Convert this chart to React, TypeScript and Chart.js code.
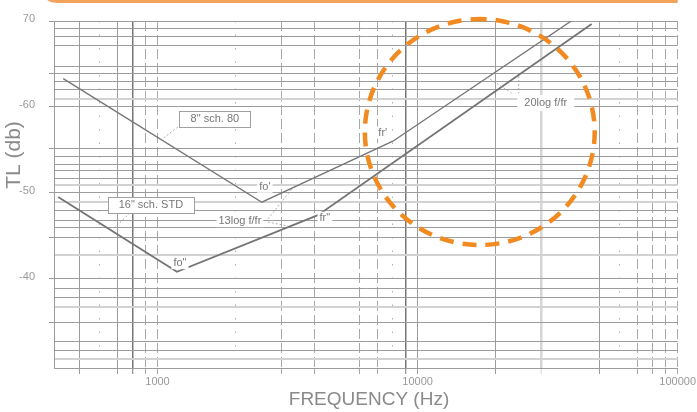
import React, { useEffect, useRef } from "react";
import { Chart, registerables } from "chart.js";

Chart.register(...registerables);

// ---------------- data ----------------
const upperFreq = [434, 2519, 8035, 39000];
const upperTL = [63.3, 48.9, 56.0, 70.0];
const lowerFreq = [415, 1188, 4137, 46700];
const lowerTL = [49.5, 40.8, 47.4, 69.65];

const xGridFreqs = [500, 600, 700, 800, 900, 1000, 2000, 3000, 4000, 6000, 7000, 8000, 9000, 10000, 20000, 30000, 50000, 60000, 70000, 80000, 90000, 100000];
const xGridKinds = ["solid", "dotted", "solid", "dark", "dashed", "dashed", "dotted", "dashed", "dashed", "dashed", "dashed", "dotted", "dark", "solid", "solid", "light", "solid", "dotted", "dashed", "dashed", "dashed", "dashed"];
const xLabelValues = [1000, 10000, 100000];
const xLabelTexts = ["1000", "10000", "100000"];

const yGridValues = [70, 69.07, 68.14, 67.09, 64.76, 63.83, 62.9, 62.08, 60.92, 60, 55.21, 54.28, 53.35, 52.54, 51.72, 50.91, 50, 48.93, 47.88, 46.83, 45.9, 44.85, 42.76, 40, 38.8, 37.75, 36.7, 34.84, 32.63, 31.58, 30.65];
const yLightValues = [60.92, 50.91, 48.93, 42.76, 36.7, 30.65];
const yTickMarkValues = [70, 63.83, 60, 55.21, 50, 44.85, 40, 34.84];
const yLabelValues = [70, 60, 50, 40];
const yLabelTexts = ["70", "-60", "-50", "-40"];

// annotation labels (position in Hz / dB)
const labelTexts = ['8" sch. 80', '16" sch. STD', "fo'", 'fo"', "13log f/fr", 'fr"', "fr'", "20log f/fr"];
const labelFreqs = [1662, 943, 2588, 1220, 2074, 4401, 7348, 31100];
const labelTL = [58.6, 48.6, 50.7, 41.8, 46.7, 47.1, 57.0, 60.45];
const labelKinds = ["box", "box", "bg", "bg", "bg", "bg", "bg", "wide"];

// leader lines: [f1, dB1, f2, dB2]
const leaderFrom = [[1198, 57.66], [784, 47.65], [2657, 46.95], [2657, 46.6], [18450, 63.48], [24490, 63.6]];
const leaderTo = [[1031, 56.14], [674, 45.78], [3286, 50.44], [3172, 46.13], [23010, 61.62], [24490, 61.62]];

// highlighted region (Hz left/right, dB top/bottom)
const circleFreqs = [6270, 47980];
const circleTL = [70.23, 43.92];

const FONT = '"Liberation Sans", Arial, Helvetica, sans-serif';
Chart.defaults.font.family = FONT;

const near = (a: number, b: number) => Math.abs(a - b) < 0.001;

const xStyle = (kind: string) => {
  switch (kind) {
    case "dark": return { color: "#777777", width: 1.5, dash: [] as number[] };
    case "dashed": return { color: "#a8a8a8", width: 1, dash: [10, 4] };
    case "dotted": return { color: "#b0b0b0", width: 1, dash: [1.5, 12] };
    case "light": return { color: "#d6d6d6", width: 2.5, dash: [] as number[] };
    default: return { color: "#9c9c9c", width: 1, dash: [] as number[] };
  }
};

const decorPlugin = {
  id: "decor",
  afterDatasetsDraw(chart: any) {
    const { ctx } = chart;
    const xs = chart.scales.x;
    const ys = chart.scales.y;
    const px = (f: number) => xs.getPixelForValue(f);
    const py = (v: number) => ys.getPixelForValue(v);
    ctx.save();
    ctx.font = `11px ${FONT}`;
    ctx.textAlign = "center";
    ctx.textBaseline = "middle";
    labelTexts.forEach((t, i) => {
      const cx = px(labelFreqs[i]);
      const cy = py(labelTL[i]);
      const w = ctx.measureText(t).width;
      const kind = labelKinds[i];
      if (kind === "box") {
        const bw = Math.round(w + 22);
        const bh = 16;
        const l = Math.round(cx - bw / 2) + 0.5;
        const tp = Math.round(cy - bh / 2) + 0.5;
        ctx.fillStyle = "#ffffff";
        ctx.fillRect(l, tp, bw, bh);
        ctx.strokeStyle = "#a0a0a0";
        ctx.lineWidth = 1;
        ctx.strokeRect(l, tp, bw, bh);
      } else if (kind === "wide") {
        ctx.fillStyle = "#ffffff";
        ctx.fillRect(cx - w / 2 - 7, cy - 8, w + 14, 16);
      } else {
        ctx.fillStyle = "#ffffff";
        ctx.fillRect(cx - w / 2 - 2, cy - 6, w + 4, 12);
      }
      ctx.fillStyle = "#777777";
      ctx.fillText(t, cx, cy);
    });
    ctx.strokeStyle = "#9a9a9a";
    ctx.lineWidth = 0.8;
    ctx.setLineDash([2, 2]);
    leaderFrom.forEach((a, i) => {
      const b = leaderTo[i];
      ctx.beginPath();
      ctx.moveTo(px(a[0]), py(a[1]));
      ctx.lineTo(px(b[0]), py(b[1]));
      ctx.stroke();
    });
    ctx.restore();
  },
  afterDraw(chart: any) {
    const { ctx } = chart;
    const xs = chart.scales.x;
    const ys = chart.scales.y;
    ctx.save();
    // orange highlight circle
    const l = xs.getPixelForValue(circleFreqs[0]);
    const r = xs.getPixelForValue(circleFreqs[1]);
    const t = ys.getPixelForValue(circleTL[0]);
    const b = ys.getPixelForValue(circleTL[1]);
    ctx.strokeStyle = "#f28a22";
    ctx.lineWidth = 4.5;
    ctx.setLineDash([14, 9]);
    ctx.lineDashOffset = 7;
    ctx.beginPath();
    ctx.ellipse((l + r) / 2, (t + b) / 2, (r - l) / 2, (b - t) / 2, 0, -Math.PI / 2, Math.PI * 1.5);
    ctx.stroke();
    ctx.setLineDash([]);
    // orange top rule
    ctx.strokeStyle = "#f4a35a";
    ctx.lineWidth = 3;
    ctx.beginPath();
    ctx.moveTo(45, -6);
    ctx.quadraticCurveTo(47, 1.5, 58, 1.5);
    ctx.lineTo(chart.chartArea.right, 1.5);
    ctx.stroke();
    // axis titles
    ctx.fillStyle = "#8a8a8a";
    ctx.textAlign = "center";
    ctx.textBaseline = "middle";
    ctx.font = `19px ${FONT}`;
    ctx.fillText("FREQUENCY (Hz)", 369, 400);
    ctx.translate(14, 155);
    ctx.rotate(-Math.PI / 2);
    ctx.font = `21px ${FONT}`;
    ctx.fillText("TL (db)", 0, 0);
    ctx.restore();
  },
};

export default function App() {
  const ref = useRef<HTMLCanvasElement>(null);
  useEffect(() => {
    const chart = new Chart(ref.current as HTMLCanvasElement, {
      type: "line",
      data: {
        datasets: [
          {
            label: '8" sch. 80',
            data: upperFreq.map((f, i) => ({ x: f, y: upperTL[i] })),
            borderColor: "#767676",
            borderWidth: 1.4,
            pointRadius: 0,
            tension: 0,
          },
          {
            label: '16" sch. STD',
            data: lowerFreq.map((f, i) => ({ x: f, y: lowerTL[i] })),
            borderColor: "#747474",
            borderWidth: 1.8,
            pointRadius: 0,
            tension: 0,
          },
        ],
      },
      options: {
        animation: false,
        responsive: false,
        devicePixelRatio: 1,
        layout: { padding: { left: 0, right: 19, top: 21, bottom: 0 } },
        plugins: { legend: { display: false }, tooltip: { enabled: false } },
        scales: {
          x: {
            type: "logarithmic",
            min: 400,
            max: 100000,
            afterBuildTicks: (s: any) => {
              s.ticks = xGridFreqs.map((v) => ({ value: v }));
            },
            afterFit: (s: any) => {
              s.height = 44;
            },
            ticks: {
              autoSkip: false,
              maxRotation: 0,
              minRotation: 0,
              padding: 1,
              color: "#999999",
              font: { size: 11, family: FONT },
              callback: (v: any) => {
                const i = xLabelValues.findIndex((x) => near(x, Number(v)));
                return i >= 0 ? xLabelTexts[i] : "";
              },
            },
            grid: {
              color: (c: any) => xStyle(xGridKinds[c.index] || "solid").color,
              lineWidth: (c: any) => xStyle(xGridKinds[c.index] || "solid").width,
              tickLength: 6,
              tickColor: (c: any) => (xGridKinds[c.index] === "dotted" ? "rgba(0,0,0,0)" : xStyle(xGridKinds[c.index] || "solid").color),
              tickWidth: 1,
            },
            border: {
              display: true,
              color: "#9c9c9c",
              width: 1,
              dash: (c: any) => (c.index === undefined ? [] : xStyle(xGridKinds[c.index] || "solid").dash),
            },
          },
          y: {
            type: "linear",
            min: 29.6,
            max: 70,
            afterBuildTicks: (s: any) => {
              s.ticks = yGridValues.map((v) => ({ value: v }));
            },
            afterFit: (s: any) => {
              s.width = 54;
            },
            ticks: {
              autoSkip: false,
              padding: 14,
              labelOffset: -2,
              color: "#999999",
              font: { size: 11, family: FONT },
              callback: (v: any) => {
                const i = yLabelValues.findIndex((x) => near(x, Number(v)));
                return i >= 0 ? yLabelTexts[i] : "";
              },
            },
            grid: {
              color: (c: any) => (c.tick && yLightValues.some((v) => near(v, c.tick.value)) ? "#d2d2d2" : "#9c9c9c"),
              lineWidth: (c: any) => (c.tick && yLightValues.some((v) => near(v, c.tick.value)) ? 2 : 1),
              tickLength: 5,
              tickColor: (c: any) => (c.tick && yTickMarkValues.some((v) => near(v, c.tick.value)) ? "#9c9c9c" : "rgba(0,0,0,0)"),
            },
            border: { display: true, color: "#9c9c9c", width: 1 },
          },
        },
      },
      plugins: [decorPlugin],
    } as any);
    return () => chart.destroy();
  }, []);
  return (
    <div style={{ position: "fixed", left: 0, top: 0, width: 697, height: 412, background: "#ffffff" }}>
      <canvas ref={ref} width={697} height={412} style={{ display: "block", width: 697, height: 412 }} />
    </div>
  );
}
